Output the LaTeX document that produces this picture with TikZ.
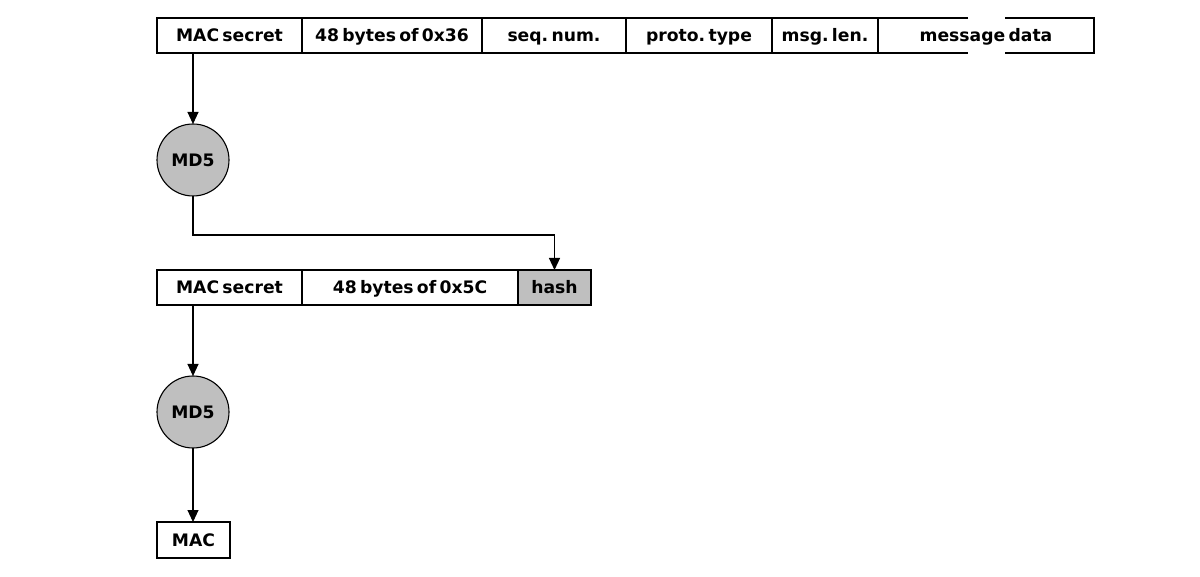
\documentclass[tikz,border=0pt]{standalone}
\usepackage{fontspec}
\setmainfont[WordSpace=0.55]{DejaVu Sans}
\usepackage{tikz}
\usetikzlibrary{arrows.meta,positioning}

\definecolor{hashgray}{RGB}{191,191,191}
\frenchspacing

\begin{document}
\begin{tikzpicture}[x=0.5pt,y=-0.5pt,->,>={Triangle[length=6pt,width=5.5pt]},line width=0.55pt,
			cell/.style={draw,-,rectangle,outer sep=0pt,inner sep=0pt,minimum height=17.5pt,
				text height=1.55ex,text depth=.4ex,font=\fontsize{8.6pt}{10pt}\selectfont\bfseries},
			md5 node/.style={circle,draw,fill=hashgray,minimum size=36pt,inner sep=0pt,outer sep=0pt,
				font=\fontsize{8.6pt}{10pt}\selectfont\bfseries}];
			
			\useasboundingbox (0,0) rectangle (1200,577);
			
			% inner hash input
			\node[cell,minimum width=72.5pt,anchor=west] (secA) at (157,35.5) {MAC secret};
			\node[cell,minimum width=90pt,right=0pt of secA] (padA) {48 bytes of 0x36};
			\node[cell,minimum width=72pt,right=0pt of padA] (seq) {seq. num.};
			\node[cell,minimum width=73pt,right=0pt of seq] (type) {proto. type};
			\node[cell,minimum width=53pt,right=0pt of type] (len) {msg. len.};
			\node[cell,draw=none,minimum width=108pt,right=0pt of len] (data) {message data};
			\draw[-] ([xshift=45pt]data.north west) -- (data.north west) -- (data.south west) -- ++(90,0);
			\draw[-] ([xshift=-44.5pt]data.north east) -- (data.north east) -- (data.south east) -- ++(-89,0);
			
			\node[md5 node] (md5a) at (193,160) {MD5};
			
			% outer hash input
			\node[cell,minimum width=72.5pt,anchor=west] (secB) at (157,287.5) {MAC secret};
			\node[cell,minimum width=108pt,right=0pt of secB] (padB) {48 bytes of 0x5C};
			\node[cell,fill=hashgray,minimum width=36.5pt,right=0pt of padB] (hash) {hash};
			
			\node[md5 node] (md5b) at (193,412) {MD5};
			
			\node[cell,minimum width=36.5pt,minimum height=18pt,anchor=west] (mac) at (157,540) {MAC};
			
			\draw (md5a |- secA.south) -- (md5a.north);
			\draw (md5a.south) -- ++(0,39) -| (hash.north);
			\draw (md5b |- secB.south) -- (md5b.north);
			\draw (md5b.south) -- (md5b |- mac.north);
			
\end{tikzpicture}
\end{document}
